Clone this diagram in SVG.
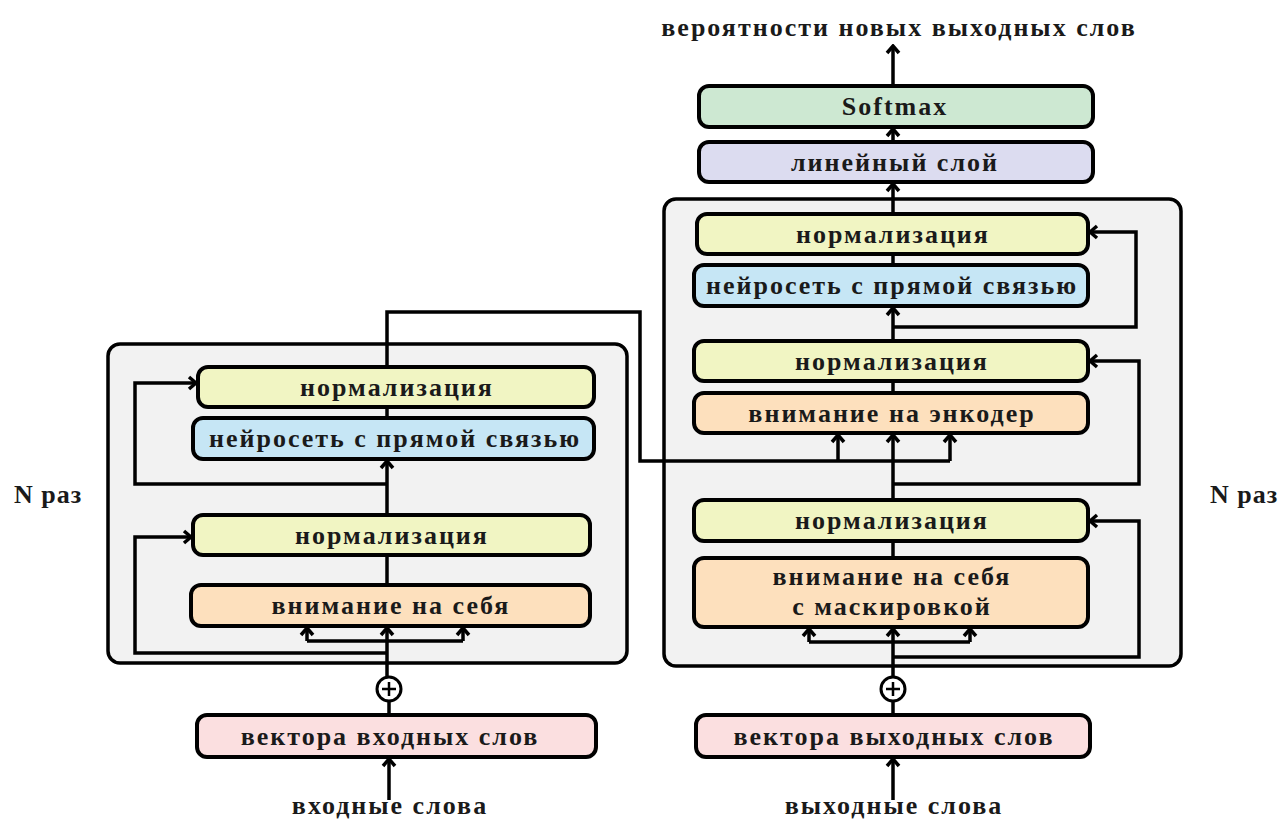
<svg xmlns="http://www.w3.org/2000/svg" width="1284" height="819" viewBox="0 0 1284 819">
<style>
.t{font-family:"Liberation Serif","Times New Roman",serif;font-weight:bold;font-size:26px;letter-spacing:2px;fill:#1a1a1a;text-anchor:middle;dominant-baseline:central}
.n{letter-spacing:1px}
.box{stroke:#000;stroke-width:4}
.cont{fill:#f2f2f2;stroke:#000;stroke-width:3.5}
.norm{fill:#f1f5c3}
.ff{fill:#c6e6f5}
.att{fill:#fde0bd}
.emb{fill:#fbdfe0}
.sm{fill:#cde8d2}
.lin{fill:#dcdcf0}
.c{fill:none;stroke:#000;stroke-width:3.5}
.a{marker-end:url(#ah)}
</style>
<defs>
<marker id="ah" viewBox="-10 -8 12 16" markerWidth="12" markerHeight="16" markerUnits="userSpaceOnUse" refX="0" refY="0" orient="auto">
<path d="M-7,-6 L0,0 L-7,6" fill="none" stroke="#000" stroke-width="3.5"/>
</marker>
</defs>
<rect fill="#fff" width="1284" height="819"/>
<g id="containers">
<rect id="encoder" class="cont" x="108" y="344" width="519" height="319" rx="12"/>
<rect id="decoder" class="cont" x="664" y="199" width="517" height="467" rx="12"/>
</g>
<g id="connectors">
<path class="c a" d="M389,800 V759"/>
<path class="c" d="M389,715 V701"/>
<path class="c a" d="M387,677 V628"/>
<path class="c" d="M307,641 H463"/>
<path class="c a" d="M307,641 V628"/>
<path class="c a" d="M463,641 V628"/>
<path class="c a" d="M387,653 H135 V537 H191"/>
<path class="c" d="M387,585 V555"/>
<path class="c a" d="M387,515 V461"/>
<path class="c a" d="M387,484 H135 V383 H196"/>
<path class="c" d="M387,418 V407"/>
<path class="c" d="M387,367 V312 H640 V461 H950"/>
<path class="c a" d="M838,461 V435"/>
<path class="c a" d="M950,461 V435"/>
<path class="c a" d="M893,800 V759"/>
<path class="c" d="M893,715 V701"/>
<path class="c a" d="M893,677 V629"/>
<path class="c" d="M809,642 H970"/>
<path class="c a" d="M809,642 V629"/>
<path class="c a" d="M970,642 V629"/>
<path class="c a" d="M893,657 H1139 V521 H1090"/>
<path class="c" d="M893,558 V541"/>
<path class="c a" d="M893,500 V435"/>
<path class="c a" d="M893,484 H1139 V361 H1090"/>
<path class="c" d="M893,393 V381"/>
<path class="c a" d="M893,341 V308"/>
<path class="c a" d="M893,327 H1136 V232 H1090"/>
<path class="c" d="M893,265 V254"/>
<path class="c a" d="M893,214 V184"/>
<path class="c a" d="M893,142 V129"/>
<path class="c a" d="M893,86 V46"/>
</g>
<g id="plus-left"><circle cx="389" cy="689" r="12" fill="#fff" stroke="#000" stroke-width="3"/><path d="M382,689 H396 M389,682 V696" stroke="#000" stroke-width="2.5"/></g>
<g id="plus-right"><circle cx="893" cy="689" r="12" fill="#fff" stroke="#000" stroke-width="3"/><path d="M886,689 H900 M893,682 V696" stroke="#000" stroke-width="2.5"/></g>
<g id="enc-norm2"><rect class="box norm" x="198" y="367" width="396" height="40" rx="10"/><text class="t" x="397" y="387">нормализация</text></g>
<g id="enc-ff"><rect class="box ff" x="193" y="418" width="401" height="41" rx="10"/><text class="t" x="395" y="438">нейросеть с прямой связью</text></g>
<g id="enc-norm1"><rect class="box norm" x="193" y="515" width="397" height="40" rx="10"/><text class="t" x="392" y="535">нормализация</text></g>
<g id="enc-att"><rect class="box att" x="191" y="585" width="399" height="41" rx="10"/><text class="t" x="391" y="605">внимание на себя</text></g>
<g id="enc-emb"><rect class="box emb" x="197" y="715" width="399" height="42" rx="10"/><text class="t" x="390" y="736">вектора входных слов</text></g>
<text class="t" x="390" y="805">входные слова</text>
<g id="softmax"><rect class="box sm" x="699" y="86" width="394" height="41" rx="10"/><text class="t" x="895" y="106">Softmax</text></g>
<g id="linear"><rect class="box lin" x="699" y="142" width="394" height="40" rx="10"/><text class="t" x="895" y="162">линейный слой</text></g>
<g id="dec-norm3"><rect class="box norm" x="697" y="214" width="391" height="40" rx="10"/><text class="t" x="893" y="234">нормализация</text></g>
<g id="dec-ff"><rect class="box ff" x="694" y="265" width="394" height="41" rx="10"/><text class="t" x="892" y="285">нейросеть с прямой связью</text></g>
<g id="dec-norm2"><rect class="box norm" x="694" y="341" width="394" height="40" rx="10"/><text class="t" x="892" y="361">нормализация</text></g>
<g id="dec-encatt"><rect class="box att" x="694" y="393" width="394" height="40" rx="10"/><text class="t" x="892" y="413">внимание на энкодер</text></g>
<g id="dec-norm1"><rect class="box norm" x="694" y="500" width="394" height="41" rx="10"/><text class="t" x="892" y="520">нормализация</text></g>
<g id="dec-att"><rect class="box att" x="694" y="558" width="394" height="69" rx="10"/><text class="t" x="892" y="576">внимание на себя</text><text class="t" x="892" y="606">с маскировкой</text></g>
<g id="dec-emb"><rect class="box emb" x="696" y="715" width="394" height="42" rx="10"/><text class="t" x="894" y="736">вектора выходных слов</text></g>
<text class="t" x="894" y="805">выходные слова</text>
<text class="t" x="899" y="27">вероятности новых выходных слов</text>
<text class="t n" x="48" y="494">N раз</text>
<text class="t n" x="1244" y="494">N раз</text>
</svg>
